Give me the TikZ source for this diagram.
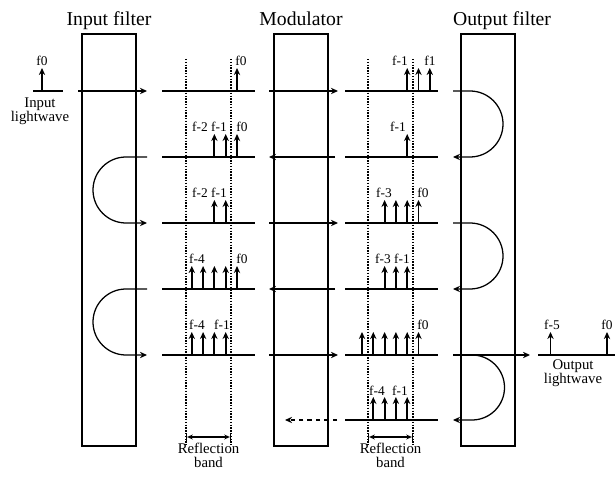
\documentclass[tikz,border=0pt]{standalone}
\usepackage{fontspec}
\setmainfont{Liberation Serif}
\usetikzlibrary{arrows.meta, positioning}

% spectral lines: base x of f0, row y, list of orders
\newcommand{\tones}[3]{\foreach \k in {#3} \draw[tone] ({#1+11.3*(\k)},#2) -- ++(0,-23);}

\begin{document}
\begin{tikzpicture}[
        x=0.025cm, y=-0.025cm,
        >={Stealth[length=5pt,width=4.5pt]},
        line width=0.9pt,
        filter/.style={draw, line width=1.3pt, minimum width=1.35cm, minimum height=10.3cm, inner sep=0pt},
        title/.style={anchor=base, inner sep=0pt, font=\fontsize{14}{16}\selectfont},
        note/.style={align=center, inner sep=0pt, font=\fontsize{10.5}{10}\selectfont},
        lbl/.style={anchor=base, inner sep=0pt, font=\fontsize{9.5}{10}\selectfont},
        axis/.style={line width=0.8pt},
        band/.style={line width=1pt, densely dotted},
        tone/.style={->, line width=1.3pt, >={Stealth[length=5pt,width=4.5pt]}}
    ]
        \useasboundingbox (0,0) rectangle (616,477);

        % filters and modulator
        \node[filter] (infilter) at (109,240) {};
        \node[filter] (modulator) at (301,240) {};
        \node[filter] (outfilter) at (488,240) {};

        \node[title] (tin) at ([yshift=5pt]infilter.north) {Input filter};
        \node[title] (tmod) at ([yshift=5pt]modulator.north) {Modulator};
        \node[title] (tout) at ([xshift=10pt,yshift=5pt]outfilter.north) {Output filter};

        % input lightwave
        \draw[axis] (33,91) -- (63,91);
        \tones{42}{91}{0}
        \node[lbl] (fin) at (42,66) {f0};
        \coordinate (inwave) at (40,97);
        \node[note, below=0pt of inwave] (tinwave) {Input\\lightwave};

        % paths through the input filter
        \draw[->] (78,91) -- (147,91);
        \draw[->] (147,157) -- (126,157) arc (270:90:33) -- (147,223);
        \draw[->] (147,289) -- (126,289) arc (270:90:33) -- (147,355);

        % paths through the modulator
        \draw[->] (269,91) -- (338,91);
        \draw[->] (335,157) -- (269,157);
        \draw[->] (269,223) -- (338,223);
        \draw[->] (335,289) -- (269,289);
        \draw[->] (269,355) -- (338,355);
        \draw[->, dashed] (337,420) -- (285,420);

        % paths through the output filter
        \draw[->] (453,91) -- (470,91) arc (-90:90:33) -- (453,157);
        \draw[->] (453,223) -- (470,223) arc (-90:90:33) -- (453,289);
        \draw[->] (453,355) -- (530,355);
        \draw[->] (472,355) arc (-90:90:32.5) -- (453,420);

        % output lightwave
        \draw[axis] (538,355) -- (615,355);
        \tones{607}{355}{0,-5}
        \node[lbl] (fout5) at (552,330) {f-5};
        \node[lbl] (fout0) at (607,330) {f0};
        \coordinate (outwave) at (573,359);
        \node[note, below=0pt of outwave] (toutwave) {Output\\lightwave};

        % spectrum between input filter and modulator
        \foreach \y in {91,157,223,289,355}
            \draw[axis] (162,\y) -- (255,\y);
        \draw[band] (186,59) -- (186,445);
        \draw[band] (231,59) -- (231,445);
        \tones{237}{91}{0}
        \tones{237}{157}{-2,-1,0}
        \tones{237}{223}{-2,-1}
        \tones{237}{289}{-4,-3,-2,-1,0}
        \tones{237}{355}{-4,-3,-2,-1}
        \foreach \txt/\x/\y [count=\i] in {f0/241/66, f-2/200/132, f-1/219/132, f0/242/132,
                f-2/200/198, f-1/219/198, f-4/197/264, f0/242/264, f-4/197/330, f-1/222/330}
            \node[lbl] (fa\i) at (\x,\y) {\txt};
        \draw[|<->|, >={Stealth[length=4pt,width=3.5pt]}, line width=0.8pt] (186,437) coordinate (banda) -- (231,437);
        \node[note, below=4pt of banda, xshift=16pt] (tbanda) {Reflection\\band};

        % spectrum between modulator and output filter
        \foreach \y in {91,157,223,289,355,420}
            \draw[axis] (345,\y) -- (438,\y);
        \draw[band] (368,59) -- (368,445);
        \draw[band] (413,59) -- (413,445);
        \tones{418.5}{91}{-1,0,1}
        \tones{418.5}{157}{-1}
        \tones{418.5}{223}{-3,-2,-1,0}
        \tones{418.5}{289}{-3,-2,-1}
        \tones{418.5}{355}{-5,-4,-3,-2,-1,0}
        \tones{418.5}{420}{-4,-3,-2,-1}
        \foreach \txt/\x/\y [count=\i] in {f-1/400/66, f1/430/66, f-1/398/132, f-3/384/198, f0/423/198,
                f-3/383/264, f-1/402/264, f0/423/330, f-4/377/395, f-1/400/395}
            \node[lbl] (fb\i) at (\x,\y) {\txt};
        \draw[|<->|, >={Stealth[length=4pt,width=3.5pt]}, line width=0.8pt] (368,437) coordinate (bandb) -- (413,437);
        \node[note, below=4pt of bandb, xshift=16pt] (tbandb) {Reflection\\band};

    \end{tikzpicture}
\end{document}
